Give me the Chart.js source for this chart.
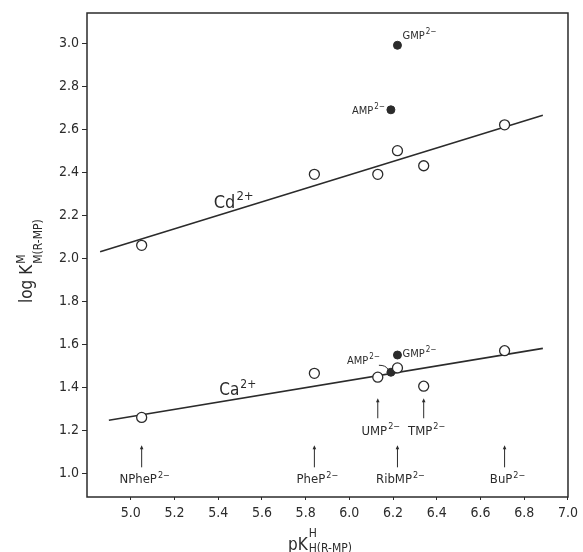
<!DOCTYPE html>
<html>
<head>
<meta charset="utf-8">
<script src="https://cdn.jsdelivr.net/npm/chart.js@4"></script>
<style>
  html, body { margin: 0; padding: 0; background: #fff; }
  canvas { display: block; }
</style>
</head>
<body>
<canvas id="chart" width="583" height="552"></canvas>
<script>
const FONT = "'DejaVu Sans Condensed','Liberation Sans Narrow','DejaVu Sans',sans-serif";
const INK = '#2b2b2b';

// ligands (open circles), x = pK^H_H(R-MP)
const ligands = ['NPheP', 'PheP', 'UMP', 'RibMP', 'TMP', 'BuP'];
const pKH = [5.05, 5.84, 6.13, 6.22, 6.34, 6.71];
const logKCd = [2.06, 2.39, 2.39, 2.50, 2.43, 2.62];
const logKCa = [1.26, 1.465, 1.447, 1.49, 1.405, 1.57];
// which ligand labels sit just under the Ca line (1) or at the bottom (0)
const labelUpper = [0, 0, 1, 0, 1, 0];

// nucleotides (filled circles)
const nucleotides = ['AMP', 'GMP'];
const pKHNuc = [6.19, 6.22];
const logKCdNuc = [2.69, 2.99];
const logKCaNuc = [1.47, 1.55];

// reference lines
const cdLineX = [4.86, 6.885];
const cdLineY = [2.03, 2.665];
const caLineX = [4.90, 6.885];
const caLineY = [1.247, 1.581];

const xTicks = [5.0, 5.2, 5.4, 5.6, 5.8, 6.0, 6.2, 6.4, 6.6, 6.8, 7.0];
const yTicks = [1.0, 1.2, 1.4, 1.6, 1.8, 2.0, 2.2, 2.4, 2.6, 2.8, 3.0];

const pts = (xs, ys) => xs.map((x, i) => ({ x: x, y: ys[i] }));

// text with a superscript, y is baseline
function supText(ctx, base, sup, x, y, size, align) {
    ctx.font = size + 'px ' + FONT;
    const wb = ctx.measureText(base).width;
    const ss = Math.round(size * 0.72);
    ctx.font = ss + 'px ' + FONT;
    const ws = ctx.measureText(sup).width;
    const total = wb + 1 + ws;
    let x0 = x;
    if (align === 'right') x0 = x - total;
    if (align === 'center') x0 = x - total / 2;
    ctx.textAlign = 'left';
    ctx.textBaseline = 'alphabetic';
    ctx.font = size + 'px ' + FONT;
    ctx.fillText(base, x0, y);
    ctx.font = ss + 'px ' + FONT;
    ctx.fillText(sup, x0 + wb + 1, y - size * 0.45);
}

function arrowUp(ctx, x, yTop, yBot) {
    ctx.beginPath();
    ctx.moveTo(x, yBot);
    ctx.lineTo(x, yTop + 3);
    ctx.stroke();
    ctx.beginPath();
    ctx.moveTo(x, yTop);
    ctx.lineTo(x - 1.8, yTop + 4);
    ctx.lineTo(x + 1.8, yTop + 4);
    ctx.closePath();
    ctx.fill();
}

const annotations = {
    id: 'annotations',
    afterDraw(chart) {
        const ctx = chart.ctx;
        const xs = chart.scales.x, ys = chart.scales.y;
        const a = chart.chartArea;
        ctx.save();
        ctx.strokeStyle = INK;
        ctx.fillStyle = INK;

        // frame
        ctx.lineWidth = 1.5;
        ctx.strokeRect(a.left, a.top, a.right - a.left, a.bottom - a.top);

        // metal ion labels
        supText(ctx, 'Cd', '2+', xs.getPixelForValue(5.38), ys.getPixelForValue(2.233), 18, 'left');
        supText(ctx, 'Ca', '2+', xs.getPixelForValue(5.405), ys.getPixelForValue(1.363), 17, 'left');

        // nucleotide labels
        const cdA = [xs.getPixelForValue(pKHNuc[0]), ys.getPixelForValue(logKCdNuc[0])];
        const cdG = [xs.getPixelForValue(pKHNuc[1]), ys.getPixelForValue(logKCdNuc[1])];
        const caA = [xs.getPixelForValue(pKHNuc[0]), ys.getPixelForValue(logKCaNuc[0])];
        const caG = [xs.getPixelForValue(pKHNuc[1]), ys.getPixelForValue(logKCaNuc[1])];
        supText(ctx, nucleotides[0], '2\u2212', cdA[0] - 6, cdA[1] + 4, 11, 'right');
        supText(ctx, nucleotides[1], '2\u2212', cdG[0] + 5, cdG[1] - 6, 11, 'left');
        supText(ctx, nucleotides[0], '2\u2212', caA[0] - 11, caA[1] - 8, 11, 'right');
        supText(ctx, nucleotides[1], '2\u2212', caG[0] + 5, caG[1] + 2, 11, 'left');
        ctx.lineWidth = 1;
        ctx.beginPath();
        ctx.moveTo(caA[0] - 12, caA[1] - 7);
        ctx.quadraticCurveTo(caA[0] - 5, caA[1] - 7, caA[0] - 3, caA[1] - 3);
        ctx.stroke();

        // ligand arrows and labels
        ctx.lineWidth = 1;
        ligands.forEach((name, i) => {
            const px = xs.getPixelForValue(pKH[i]);
            if (labelUpper[i]) {
                arrowUp(ctx, px, ys.getPixelForValue(1.349), ys.getPixelForValue(1.256));
                supText(ctx, name, '2\u2212', px + 3, ys.getPixelForValue(1.177), 13, 'center');
            } else {
                arrowUp(ctx, px, ys.getPixelForValue(1.130), ys.getPixelForValue(1.028));
                supText(ctx, name, '2\u2212', px + 3, ys.getPixelForValue(0.953), 13, 'center');
            }
        });

        // y axis title: log K^M_M(R-MP)
        ctx.save();
        ctx.translate(32, 303);
        ctx.rotate(-Math.PI / 2);
        ctx.textAlign = 'left';
        ctx.textBaseline = 'alphabetic';
        ctx.font = '17px ' + FONT;
        ctx.fillText('log K', 0, 0);
        const wy = ctx.measureText('log K').width;
        ctx.font = '12px ' + FONT;
        ctx.fillText('M', wy + 1, -7);
        ctx.fillText('M(R-MP)', wy + 1, 10);
        ctx.restore();

        // x axis title: pK^H_H(R-MP)
        ctx.textAlign = 'left';
        ctx.font = '17px ' + FONT;
        ctx.fillText('pK', 288, 550);
        const wx = ctx.measureText('pK').width;
        ctx.font = '12px ' + FONT;
        ctx.fillText('H', 288 + wx + 1, 537);
        ctx.fillText('H(R-MP)', 288 + wx + 1, 552);

        ctx.restore();
    }
};

const tickFont = { family: FONT, size: 14 };

new Chart(document.getElementById('chart'), {
    type: 'scatter',
    data: {
        datasets: [
            { data: pts(pKH, logKCd), pointRadius: 5, pointBackgroundColor: '#fff', pointBorderColor: INK, pointBorderWidth: 1.3, order: 0 },
            { data: pts(pKH, logKCa), pointRadius: 5, pointBackgroundColor: '#fff', pointBorderColor: INK, pointBorderWidth: 1.3, order: 0 },
            { data: pts(pKHNuc, logKCdNuc), pointRadius: 4, pointBackgroundColor: INK, pointBorderColor: INK, pointBorderWidth: 1, order: 0 },
            { data: pts(pKHNuc, logKCaNuc), pointRadius: 4, pointBackgroundColor: INK, pointBorderColor: INK, pointBorderWidth: 1, order: 0 },
            { data: pts(cdLineX, cdLineY), showLine: true, pointRadius: 0, borderColor: INK, borderWidth: 1.6, order: 1 },
            { data: pts(caLineX, caLineY), showLine: true, pointRadius: 0, borderColor: INK, borderWidth: 1.6, order: 1 }
        ]
    },
    options: {
        responsive: false,
        animation: false,
        devicePixelRatio: 1,
        layout: { padding: { top: 13, right: 14, left: 0, bottom: 0 } },
        plugins: { legend: { display: false }, tooltip: { enabled: false } },
        scales: {
            x: {
                type: 'linear',
                min: 4.8,
                max: 7.0,
                afterBuildTicks: s => { s.ticks = xTicks.map(v => ({ value: v })); },
                afterFit: s => { s.height = 55; },
                ticks: { callback: v => v.toFixed(1), font: tickFont, color: INK, padding: 5, autoSkip: false, maxRotation: 0 },
                grid: { drawOnChartArea: false, drawTicks: true, tickLength: 3, color: INK },
                border: { display: false }
            },
            y: {
                type: 'linear',
                min: 0.89,
                max: 3.14,
                afterBuildTicks: s => { s.ticks = yTicks.map(v => ({ value: v })); },
                afterFit: s => { s.width = 87; },
                ticks: { callback: v => v.toFixed(1), font: tickFont, color: INK, padding: 3, autoSkip: false },
                grid: { drawOnChartArea: false, drawTicks: true, tickLength: 5, color: INK },
                border: { display: false }
            }
        }
    },
    plugins: [annotations]
});
</script>
</body>
</html>
